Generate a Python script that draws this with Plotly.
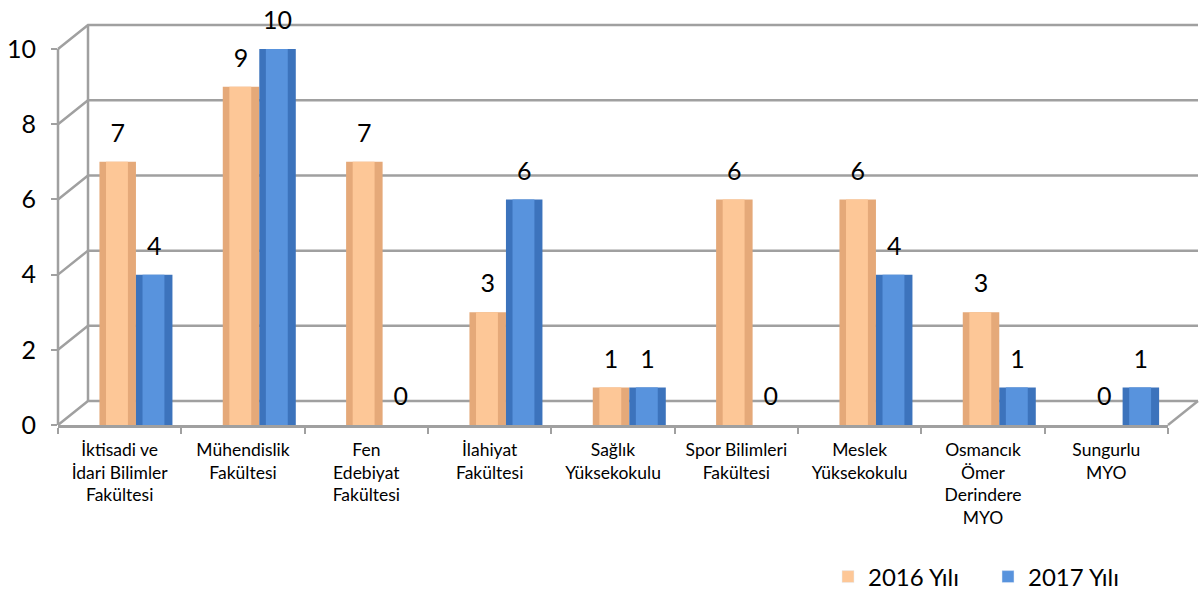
import plotly.graph_objects as go

categories = [
    "İktisadi ve<br>İdari Bilimler<br>Fakültesi",
    "Mühendislik<br>Fakültesi",
    "Fen<br>Edebiyat<br>Fakültesi",
    "İlahiyat<br>Fakültesi",
    "Sağlık<br>Yüksekokulu",
    "Spor Bilimleri<br>Fakültesi",
    "Meslek<br>Yüksekokulu",
    "Osmancık<br>Ömer<br>Derindere<br>MYO",
    "Sungurlu<br>MYO",
]
v2016 = [7, 9, 7, 3, 1, 6, 6, 3, 0]
v2017 = [4, 10, 0, 6, 1, 0, 4, 1, 1]
yticks = [0, 2, 4, 6, 8, 10]
series_names = ["2016 Yılı", "2017 Yılı"]

FONT = "Lato"
W, H = 1204, 594
ML, MR, MT, MB = 58, 36, 19, 169
PW = W - ML - MR
PH = H - MT - MB
YMAX = 10.8

orange_dark, orange_light = "#E5A979", "#FDC797"
blue_dark, blue_light = "#3C73BC", "#5893DD"

bw = 0.296
offs = [-0.164, 0.132]
xpos = list(range(len(categories)))

fig = go.Figure()
for name, vals, off, cd, cl in [
    (series_names[0], v2016, offs[0], orange_dark, orange_light),
    (series_names[1], v2017, offs[1], blue_dark, blue_light),
]:
    fig.add_trace(go.Bar(
        x=xpos, y=vals, name=name, width=bw, offset=off,
        marker=dict(color=cd, line=dict(width=0)),
        showlegend=False, hoverinfo="skip",
    ))
    fig.add_trace(go.Bar(
        x=xpos, y=vals, name=name, width=bw * 0.6, offset=off + bw * 0.18,
        marker=dict(color=cl, line=dict(width=0)),
        showlegend=False, hoverinfo="skip",
    ))
    # value labels
    fig.add_trace(go.Scatter(
        x=[i + off + bw / 2 for i in xpos], y=vals, mode="markers+text",
        text=[str(v) for v in vals], textposition="top center",
        textfont=dict(family=FONT, size=25, color="#000000"),
        marker=dict(size=20, color="rgba(0,0,0,0)"),
        cliponaxis=False, showlegend=False, hoverinfo="skip",
    ))
    # legend entry
    fig.add_trace(go.Bar(
        x=[None], y=[None], name=name, marker=dict(color=cl), showlegend=True,
    ))

# 3D style walls / gridlines
dx = 30 / PW
dy = 24 / PH
gcol = "#A0A0A0"
shapes = []
for v in yticks:
    yp = v / YMAX
    shapes.append(dict(type="path", xref="paper", yref="paper",
                       path=f"M 0,{yp} L {dx},{yp + dy} L {1 + dx},{yp + dy}",
                       line=dict(color=gcol, width=2.5), layer="below"))
shapes.append(dict(type="line", xref="paper", yref="paper", x0=0, y0=0, x1=0,
                   y1=yticks[-1] / YMAX, line=dict(color=gcol, width=2.5), layer="below"))
shapes.append(dict(type="line", xref="paper", yref="paper", x0=dx, y0=dy, x1=dx,
                   y1=yticks[-1] / YMAX + dy, line=dict(color=gcol, width=2.5), layer="below"))
shapes.append(dict(type="line", xref="paper", yref="paper", x0=1, y0=0, x1=1 + dx,
                   y1=dy, line=dict(color=gcol, width=2.5), layer="below"))

fig.update_layout(
    width=W, height=H,
    margin=dict(l=ML, r=MR, t=MT, b=MB, autoexpand=False),
    paper_bgcolor="white", plot_bgcolor="white",
    barmode="overlay",
    font=dict(family=FONT, color="#000000"),
    shapes=shapes,
    showlegend=True,
    legend=dict(orientation="h", xref="container", yref="container",
                x=828 / W, xanchor="left", y=1 - 577 / H, yanchor="middle",
                font=dict(family=FONT, size=24), entrywidth=115, entrywidthmode="pixels",
                traceorder="normal", bgcolor="rgba(0,0,0,0)"),
    xaxis=dict(tickmode="array", tickvals=xpos, ticktext=categories,
               showline=True, linecolor=gcol, linewidth=2.5, ticks="",
               ticklabelstandoff=7,
               tickfont=dict(family=FONT, size=17.5), showgrid=False,
               range=[-0.5, len(categories) - 0.5], zeroline=False,
               minor=dict(tickmode="array", tickvals=[i - 0.5 for i in range(len(categories) + 1)],
                          ticks="outside", ticklen=6, tickcolor=gcol, tickwidth=2, showgrid=False),
               automargin=False),
    yaxis=dict(range=[0, YMAX], tickvals=yticks, showgrid=False, zeroline=False,
               showline=False, ticks="outside", ticklen=6, tickcolor=gcol, tickwidth=2,
               ticklabelstandoff=10,
               tickfont=dict(family=FONT, size=25), automargin=False),
)

fig.write_html("out.html", config={"displayModeBar": False})

with open("out.html", "r", encoding="utf-8") as f:
    html = f.read()
html = html.replace("<body>", '<body style="margin:0;padding:0;overflow:hidden">', 1)
with open("out.html", "w", encoding="utf-8") as f:
    f.write(html)
